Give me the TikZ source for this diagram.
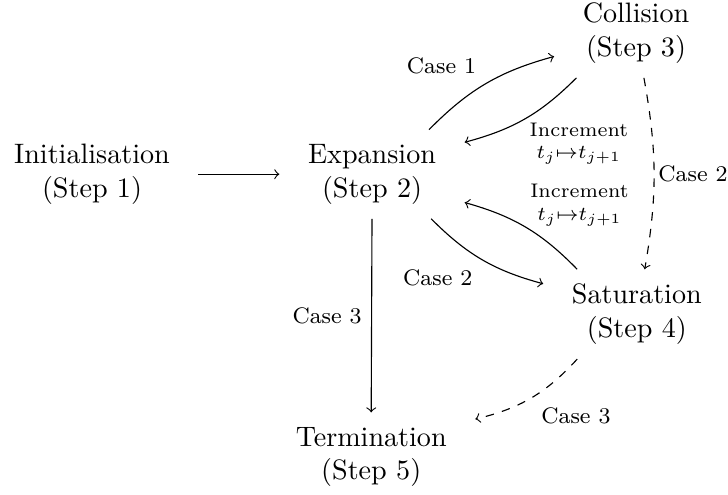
\documentclass[tikz,border=0pt]{standalone}
\usepackage{amsmath}
\usepackage{amssymb}
\usetikzlibrary{calc}

\begin{document}
\begin{tikzpicture}[
        stepnode/.style={align=center, inner xsep=10pt, inner ysep=5pt},
        caselabel/.style={font=\footnotesize},
        inclabel/.style={font=\scriptsize, align=center}
    ]
        % Fix the canvas
        \useasboundingbox (0,0) rectangle (9.1,6.1875);

        % Place the steps
        \node[stepnode] (init) at (1.15,4.01) {Initialisation\\(Step 1)};
        \node[stepnode] (exp) at (4.65,4.01) {Expansion\\(Step 2)};
        \node[stepnode] (col) at (7.95,5.775) {Collision\\(Step 3)};
        \node[stepnode] (sat) at (7.96,2.26) {Saturation\\(Step 4)};
        \node[stepnode] (term) at (4.64,0.475) {Termination\\(Step 5)};

        % Initialisation to expansion
        \draw[->] (init) -- (exp);

        % Expansion and collision
        \draw[->] (exp.38) to[bend left=15] node[caselabel, above left] (c1) {Case 1} (col.196);
        \draw[->] (col.217) to[bend left=15] node[inclabel, below right, xshift=-2pt, yshift=2pt] (inc1) {Increment\\$t_j{\mapsto}t_{j+1}$} (exp.19);

        % Expansion and saturation
        \draw[->] (exp.-37) to[bend right=15] node[caselabel, below left] (c2) {Case 2} (sat.162);
        \draw[->] (sat.143) to[bend right=15] node[inclabel, above right, xshift=-2pt, yshift=-3pt] (inc2) {Increment\\$t_j{\mapsto}t_{j+1}$} (exp.-17);

        % Collision to saturation
        \draw[->, dashed] (col.-80) to[bend left=10] node[caselabel, right, xshift=-2pt] (c2b) {Case 2} (sat.80);

        % Termination
        \draw[->] (exp.south) -- node[caselabel, left] (c3) {Case 3} (term.north);
        \draw[->, dashed] (sat.217) to[bend left=17] node[caselabel, below right] (c3b) {Case 3} (term.20);

    \end{tikzpicture}
\end{document}
